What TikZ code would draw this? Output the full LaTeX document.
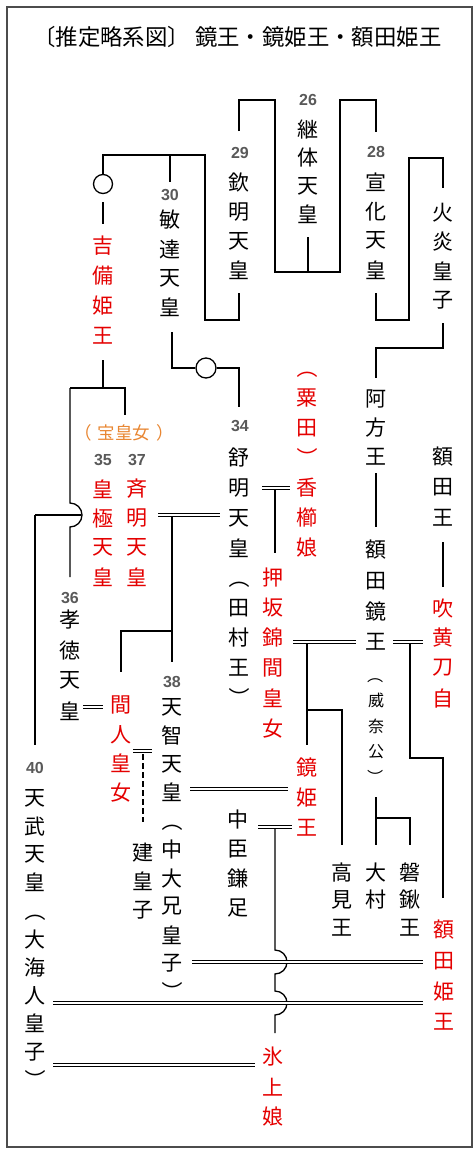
\documentclass[tikz,border=0pt]{standalone}
\usepackage{fontspec}
\usepackage{graphicx}
\newfontfamily\jp{Noto Sans CJK JP}
\newfontfamily\numf{Liberation Sans}
\definecolor{kred}{RGB}{228,0,0}
\definecolor{korange}{RGB}{232,134,50}
\tikzset{
  ln/.style={line width=1.3pt},
  dbl/.style={double, double distance=1.5pt, line width=1.0pt},
  ch/.style={font=\jp\fontsize{21}{21}\selectfont, inner sep=0pt, anchor=center},
  rch/.style={ch, text=kred},
  sch/.style={font=\jp\fontsize{16}{16}\selectfont, inner sep=0pt, anchor=center},
  num/.style={font=\numf\bfseries\fontsize{16}{16}\selectfont, text=black!65, inner sep=0pt},
}
\newcommand\opb{\rotatebox[origin=c]{-90}{（}}
\newcommand\clb{\rotatebox[origin=c]{-90}{）}}
\newcommand\vcol[6]{\foreach \vc [count=\i from 0] in {#6} {\node[#5] (#1\i) at (#2,{#3+\i*#4}) {\vc};}}
\begin{document}
\begin{tikzpicture}[x=1pt,y=-1pt]
\useasboundingbox (0,0) rectangle (475,1149);
\draw[line width=2pt, black!70] (7,7) rectangle (472,1147);
\node[font=\jp\fontsize{22.4}{22.4}\selectfont, inner sep=0pt] (title) at (237.5,37) {〔推定略系図〕 鏡王・鏡姫王・額田姫王};

% numbers
\node[num] (n26) at (308,100) {26};
\node[num] (n29) at (240,153) {29};
\node[num] (n28) at (376,152) {28};
\node[num] (n30) at (170,195) {30};
\node[num] (n34) at (240,426) {34};
\node[num] (n35) at (103,460) {35};
\node[num] (n37) at (137,460) {37};
\node[num] (n36) at (70,598) {36};
\node[num] (n38) at (172,682) {38};
\node[num] (n40) at (35,768) {40};
\node[font=\jp\fontsize{17.5}{17.5}\selectfont, text=korange, inner sep=0pt] (takara) at (124,433) {（\hspace{6pt}宝皇女\hspace{6pt}）};

% columns
\vcol{keitai}{308}{130}{28}{ch}{継,体,天,皇}
\vcol{kinmei}{239}{183}{29}{ch}{欽,明,天,皇}
\vcol{senka}{376}{182}{29.3}{ch}{宣,化,天,皇}
\vcol{hoen}{443}{213}{29}{ch}{火,炎,皇,子}
\vcol{bidatsu}{170}{220}{29}{ch}{敏,達,天,皇}
\vcol{kibi}{103}{246}{30}{rch}{吉,備,姫,王}
\vcol{akata}{376}{399}{29}{ch}{阿,方,王}
\vcol{kagushi}{307}{368}{30}{rch}{\opb,粟,田,\clb,香,櫛,娘}
\vcol{nukataou}{443}{457}{30.5}{ch}{額,田,王}
\vcol{jomei}{239}{458}{30}{ch}{舒,明,天,皇,\opb,田,村,王,\clb}
\vcol{kogyoku}{103}{489}{29.3}{rch}{皇,極,天,皇}
\vcol{saimei}{137}{489}{29.3}{rch}{斉,明,天,皇}
\vcol{kagami}{376}{550}{30.7}{ch}{額,田,鏡,王}
\vcol{ina}{376}{675}{25.5}{sch}{\opb,威,奈,公,\clb}
\vcol{oshi}{273}{577}{30.4}{rch}{押,坂,錦,間,皇,女}
\vcol{fuki}{443}{608}{30}{rch}{吹,黄,刀,自}
\vcol{kotoku}{70}{620}{30.3}{ch}{孝,徳,天,皇}
\vcol{tenji}{172}{707}{28.5}{ch}{天,智,天,皇,\opb,中,大,兄,皇,子,\clb}
\vcol{hashi}{121}{705}{29.3}{rch}{間,人,皇,女}
\vcol{tenmu}{35}{798}{28.2}{ch}{天,武,天,皇,\opb,大,海,人,皇,子,\clb}
\vcol{kagamihime}{307}{768}{30}{rch}{鏡,姫,王}
\vcol{kamatari}{238}{819}{29.7}{ch}{中,臣,鎌,足}
\vcol{takeru}{143}{853}{28.5}{ch}{建,皇,子}
\vcol{takami}{342}{872}{28}{ch}{高,見,王}
\vcol{omura}{376}{872}{28}{ch}{大,村}
\vcol{iwasuki}{410}{872}{28}{ch}{磐,鍬,王}
\vcol{nukatahime}{444}{930}{30.7}{rch}{額,田,姫,王}
\vcol{hikami}{273}{1057}{30}{rch}{氷,上,娘}

% circles
\node[draw, circle, line width=1.3pt, minimum size=19pt, inner sep=0pt] (c1) at (103,184) {};
\node[draw, circle, line width=1.3pt, minimum size=20pt, inner sep=0pt] (c2) at (206,368) {};

% lines
\draw[ln] (239,131)--(239,100)--(275,100)--(275,272)--(340,272)--(340,100)--(376,100)--(376,132);
\draw[ln] (308,237)--(308,272);
\draw[ln] (239,293)--(239,320)--(205,320)--(205,155)--(103,155)--(c1.north);
\draw[ln] (170,155)--(170,182);
\draw[ln] (c1.south)+(0,8) -- (103,224);
\draw[ln] (103,360)--(103,388);
\draw[ln] (70,388)--(125,388)--(125,415);
\draw[ln] (70,388)--(70,503) arc[start angle=-90, end angle=90, radius=12] -- (70,577);
\draw[ln] (35,515)--(81,515);
\draw[ln] (35,515)--(35,745);
\draw[ln] (172,332)--(172,368)--(c2.west);
\draw[ln] (c2.east)--(239,368)--(239,407);
\draw[dbl] (158,515)--(220,515);
\draw[ln] (172,517)--(172,662);
\draw[ln] (172,631)--(121,631)--(121,672);
\draw[dbl] (83,707)--(103,707);
\draw[dbl] (133,751)--(152,751);
\draw[ln, dash pattern=on 6pt off 3pt] (143,754)--(143,822);
\draw[dbl] (262,488)--(290,488);
\draw[ln] (275,490)--(275,553);
\draw[ln] (376,293)--(376,320)--(409,320)--(409,158)--(443,158)--(443,188);
\draw[ln] (443,323)--(443,348)--(376,348)--(376,378);
\draw[ln] (376,473)--(376,527);
\draw[ln] (443,542)--(443,587);
\draw[dbl] (293,642)--(356,642);
\draw[ln] (307,644)--(307,745);
\draw[ln] (307,710)--(342,710)--(342,845);
\draw[dbl] (393,642)--(423,642);
\draw[ln] (410,644)--(410,758)--(443,758)--(443,898);
\draw[ln] (376,797)--(376,845);
\draw[ln] (376,818)--(410,818)--(410,845);
\draw[dbl] (190,789)--(288,789);
\draw[dbl] (258,827)--(292,827);
\draw[ln] (275,829)--(275,950) arc[start angle=-90, end angle=90, radius=12] -- (275,991) arc[start angle=-90, end angle=90, radius=12] -- (275,1033);
\draw[dbl] (192,962)--(423,962);
\draw[dbl] (53,1003)--(423,1003);
\draw[dbl] (53,1065)--(255,1065);
\end{tikzpicture}
\end{document}
